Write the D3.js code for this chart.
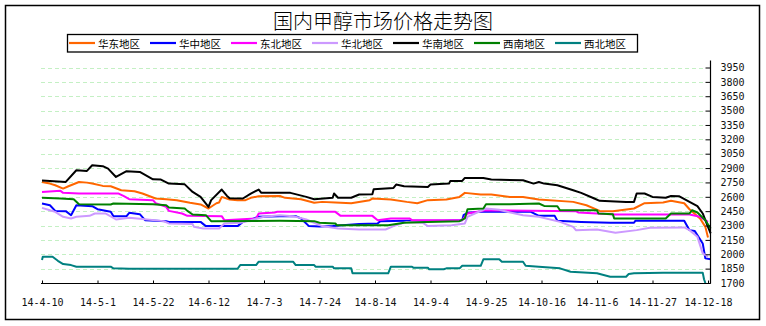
<!DOCTYPE html>
<html><head><meta charset="utf-8">
<script src="https://cdn.jsdelivr.net/npm/d3@7/dist/d3.min.js"></script>
<style>body{margin:0;background:#fff} svg{display:block}</style>
</head><body>
<svg id="c" width="766" height="326"></svg>
<script>
// ---------- data ----------
const chartTitle = "国内甲醇市场价格走势图";
const seriesNames = ["华东地区","华中地区","东北地区","华北地区","华南地区","西南地区","西北地区"];
const xTickLabels = ["14-4-10","14-5-1","14-5-22","14-6-12","14-7-3","14-7-24","14-8-14","14-9-4","14-9-25","14-10-16","14-11-6","14-11-27","14-12-18"];
const yTickLabels = [1700,1850,2000,2150,2300,2450,2600,2750,2900,3050,3200,3350,3500,3650,3800,3950];
// [days since 2014-04-10, price]
const huadong = [[0,2755],[3,2738],[5,2721],[8,2686],[10,2710],[14,2755],[17,2748],[19,2738],[23,2714],[26,2710],[30,2669],[35,2658],[38,2634],[43,2582],[47,2575],[51,2565],[56,2537],[60,2520],[63,2478],[66,2533],[67,2540],[68,2599],[71,2572],[74,2565],[77,2565],[79,2589],[82,2606],[90,2609],[92,2589],[98,2575],[103,2537],[106,2547],[111,2540],[117,2533],[124,2565],[125,2582],[132,2572],[138,2547],[142,2533],[146,2565],[153,2572],[158,2599],[160,2641],[166,2624],[170,2624],[177,2599],[182,2599],[188,2572],[201,2547],[206,2512],[211,2453],[216,2450],[224,2478],[228,2533],[235,2540],[238,2558],[243,2533],[245,2470],[249,2374],[251,2286],[252,2176]];
const huazhong = [[0,2530],[3,2512],[5,2453],[9,2450],[11,2408],[13,2512],[19,2502],[21,2471],[26,2443],[27,2398],[32,2398],[33,2433],[37,2419],[39,2356],[47,2346],[48,2338],[60,2338],[62,2294],[74,2294],[76,2338],[82,2391],[90,2398],[96,2398],[98,2374],[101,2294],[105,2290],[110,2294],[120,2315],[127,2322],[128,2346],[138,2350],[152,2350],[159,2356],[159.5,2408],[161,2433],[166,2443],[185,2443],[188,2401],[194,2401],[195,2349],[204,2338],[215,2329],[224,2329],[224.5,2349],[243,2349],[245,2252],[247,2242],[250,2113],[251,1957],[253,1947]];
const dongbei = [[0,2651],[7,2662],[8,2641],[14,2634],[29,2634],[31,2606],[33,2575],[42,2565],[43,2533],[47,2495],[48,2453],[53,2426],[55,2401],[68,2398],[69,2356],[81,2374],[82,2426],[88,2436],[89,2443],[111,2443],[113,2401],[125,2401],[127,2356],[132,2374],[139,2374],[140,2356],[159,2356],[161,2426],[168,2460],[202,2450],[203,2436],[217,2415],[245,2415],[249,2391],[252,2338]];
const huabei = [[0,2484],[3,2460],[5,2443],[8,2391],[11,2374],[13,2391],[18,2401],[20,2426],[24,2426],[28,2363],[33,2381],[38,2367],[46,2346],[48,2322],[57,2315],[57.5,2286],[61,2269],[67,2269],[69,2322],[75,2329],[79,2356],[84,2391],[90,2408],[95,2398],[100,2363],[106,2294],[112,2269],[120,2259],[130,2259],[133,2294],[138,2338],[144,2329],[146,2294],[155,2304],[160,2322],[161,2391],[168,2478],[173,2465],[176,2443],[182,2408],[188,2391],[196,2338],[201,2286],[202,2252],[210,2259],[217,2224],[225,2252],[230,2276],[243,2280],[245,2252],[248,2182],[250,2009],[252,1974]];
const huanan = [[0,2770],[9,2755],[13,2877],[17,2870],[19,2929],[23,2920],[25,2894],[28,2807],[32,2867],[37,2860],[42,2783],[45,2780],[48,2738],[54,2730],[57,2651],[60,2599],[63,2495],[64,2565],[68,2676],[70,2609],[71,2585],[76,2582],[79,2634],[82,2676],[83,2641],[94,2641],[100,2599],[103,2575],[110,2590],[110.5,2634],[112,2590],[117,2590],[120,2624],[125,2627],[125.5,2679],[133,2693],[134,2728],[137,2710],[146,2703],[147,2728],[154,2738],[154.5,2766],[159,2766],[160,2797],[167,2797],[170,2780],[182,2773],[186,2738],[188,2755],[190,2738],[195,2721],[201,2669],[204,2641],[209,2582],[211,2558],[221,2547],[224,2547],[225,2634],[228,2634],[231,2599],[236,2590],[238,2609],[241,2606],[245,2547],[248,2502],[250,2426],[252,2286],[253,2217]];
const xinan = [[0,2589],[7,2582],[12,2575],[14,2523],[26,2520],[27,2530],[42,2523],[47,2512],[48,2488],[54,2478],[55,2453],[57,2415],[62,2408],[64,2346],[90,2350],[103,2346],[105,2329],[111,2322],[111.5,2304],[131,2304],[137,2329],[146,2338],[158,2346],[160,2374],[161,2471],[167,2478],[168,2523],[177,2523],[188,2530],[190,2505],[195,2502],[196,2460],[210,2460],[210.5,2426],[216,2419],[216.5,2374],[236,2374],[238,2426],[245,2426],[246,2460],[248,2436],[251,2356],[253,2269]];
const xibei = [[0,1940],[0.3,1974],[4,1974],[6,1932],[8,1898],[11,1887],[13,1870],[26,1870],[27,1853],[33,1849],[74,1849],[75,1887],[81,1887],[82,1922],[95,1922],[96,1887],[103,1887],[103.5,1870],[110,1870],[110.5,1853],[117,1853],[117.5,1801],[131,1801],[132,1870],[140,1870],[140.5,1860],[146,1860],[146.5,1843],[152,1843],[153,1853],[158,1853],[159,1880],[166,1880],[167,1947],[173,1947],[174,1922],[182,1922],[183,1880],[188,1870],[196,1853],[200,1818],[210,1801],[215,1766],[221,1766],[222,1794],[224,1801],[235,1808],[250,1808],[250.5,1739],[251,1700]];
const seriesData = [huadong, huazhong, dongbei, huabei, huanan, xinan, xibei];
const seriesColors = ["#FF6600","#0000FF","#FF00FF","#CC99FF","#000000","#008000","#008080"];

// ---------- layout ----------
const svg = d3.select("#c");
const parse = d3.timeParse("%y-%m-%d");
const tickDates = xTickLabels.map(parse);
const start = tickDates[0];
const toDate = d => new Date(start.getTime() + d * 864e5);

const x = d3.scaleTime().domain([tickDates[0], tickDates[tickDates.length-1]]).range([42, 708]);
const y = d3.scaleLinear().domain([1700, 3950]).range([283, 67.5]);
const plotLeft = 41, axisX = 710, axisBottom = 283, plotTop = 60.5;

// outer border
svg.append("rect").attr("x",5.5).attr("y",5.5).attr("width",754).attr("height",314)
  .attr("fill","#fff").attr("stroke","#000").attr("stroke-width",1.5);

// title
svg.append("text").attr("x",383).attr("y",28.5).attr("text-anchor","middle")
  .style("font-family","'Noto Sans CJK SC'").style("font-size","20px").style("font-weight",300)
  .attr("fill","#000").text(chartTitle);

// legend
const lg = svg.append("g");
lg.append("rect").attr("x",67.5).attr("y",34.5).attr("width",570).attr("height",17.5)
  .attr("fill","#fff").attr("stroke","#000").attr("stroke-width",1.3);
seriesNames.forEach((n,i)=>{
  const lx = 69 + i*81;
  lg.append("line").attr("x1",lx).attr("x2",lx+26).attr("y1",43).attr("y2",43)
    .attr("stroke",seriesColors[i]).attr("stroke-width",2.2);
  lg.append("text").attr("x",lx+29).attr("y",47.5).style("font-family","'Noto Sans CJK SC'")
    .style("font-size","10.5px").attr("fill","#000").text(n);
});

// grid
svg.append("g").selectAll("line").data(yTickLabels.filter(v=>v>1700)).join("line")
  .attr("x1",plotLeft).attr("x2",705).attr("y1",d=>Math.round(y(d))+0.5).attr("y2",d=>Math.round(y(d))+0.5)
  .attr("stroke","#c4f0c4").attr("stroke-width",1).attr("stroke-dasharray","4,3");

// series lines
const line = d3.line().x(d=>x(toDate(d[0]))).y(d=>y(d[1]));
seriesData.forEach((s,i)=>{
  svg.append("path").datum(s).attr("d",line).attr("fill","none")
    .attr("stroke",seriesColors[i]).attr("stroke-width",2).attr("stroke-linejoin","round");
});

// right axis
const yAxis = d3.axisRight(y).tickValues(yTickLabels).tickFormat(d3.format("d"))
  .tickSizeInner(-5).tickSizeOuter(0).tickPadding(10);
const ya = svg.append("g").attr("transform",`translate(${axisX+0.5},0)`).call(yAxis);
ya.select(".domain").remove();
ya.selectAll("text").style("font-family","'DejaVu Sans Mono'").style("font-size","10px").attr("fill","#111");
ya.selectAll(".tick line").attr("stroke","#000");
svg.append("line").attr("x1",axisX+0.5).attr("x2",axisX+0.5).attr("y1",plotTop).attr("y2",axisBottom+0.5)
  .attr("stroke","#000").attr("stroke-width",1.2);

// bottom axis
const xAxis = d3.axisBottom(x).tickValues(tickDates).tickFormat((d,i)=>xTickLabels[i])
  .tickSizeInner(-3).tickSizeOuter(0).tickPadding(15);
const xa = svg.append("g").attr("transform",`translate(0,${axisBottom+0.5})`).call(xAxis);
xa.select(".domain").remove();
xa.selectAll("text").style("font-family","'DejaVu Sans Mono'").style("font-size","10px").attr("fill","#111");
xa.selectAll(".tick line").attr("stroke","#000");
svg.append("line").attr("x1",plotLeft).attr("x2",axisX+0.5).attr("y1",axisBottom+0.5).attr("y2",axisBottom+0.5)
  .attr("stroke","#000").attr("stroke-width",1.2);
</script>
</body></html>
